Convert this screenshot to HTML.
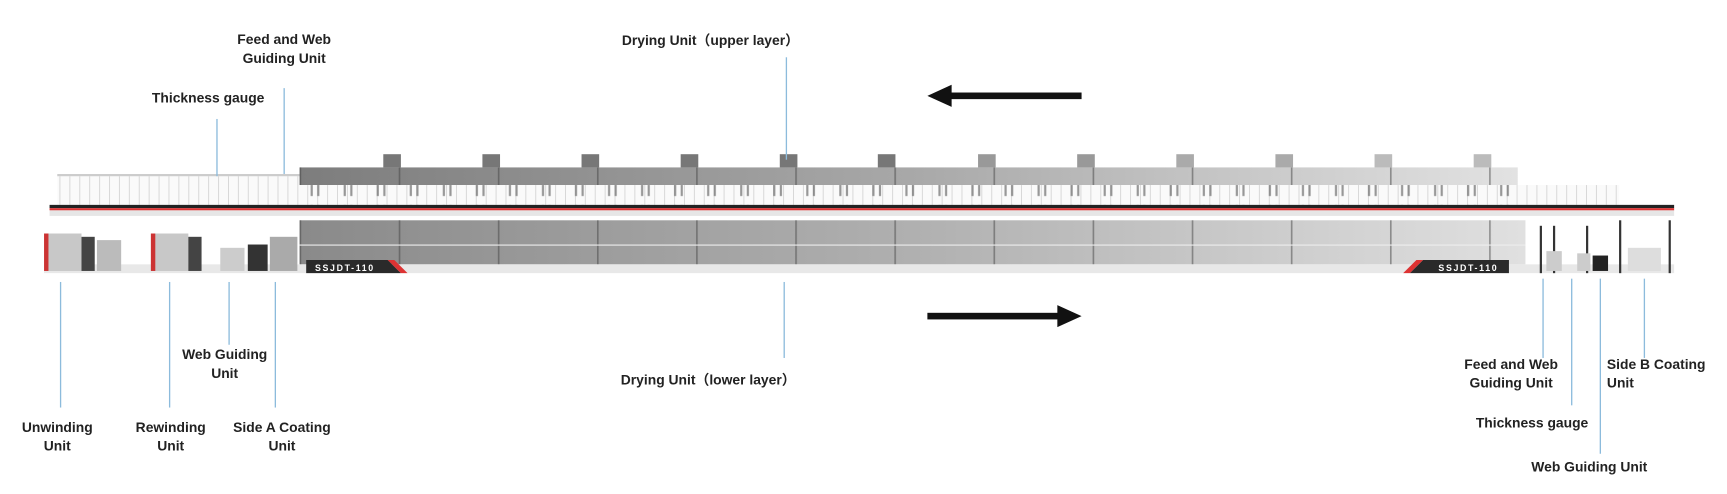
<!DOCTYPE html>
<html><head><meta charset="utf-8"><style>
html,body{margin:0;padding:0;background:#fff;}
svg{display:block;}
text{font-family:"Liberation Sans","Noto Sans CJK SC",sans-serif;font-weight:bold;font-size:12.6px;fill:#222;}
</style></head><body>
<svg width="1727" height="494" viewBox="0 0 1568 448.5" preserveAspectRatio="none" xmlns="http://www.w3.org/2000/svg">
<defs>
<linearGradient id="gu" x1="0" x2="1"><stop offset="0" stop-color="#7d7d7d"/><stop offset="0.5" stop-color="#a8a8a8"/><stop offset="1" stop-color="#e2e2e2"/></linearGradient>
<linearGradient id="gl" x1="0" x2="1"><stop offset="0" stop-color="#8a8a8a"/><stop offset="0.5" stop-color="#b0b0b0"/><stop offset="1" stop-color="#e0e0e0"/></linearGradient>
<pattern id="rail" width="9" height="20" patternUnits="userSpaceOnUse"><rect width="9" height="20" fill="#fafafa"/><rect x="0" width="0.8" height="20" fill="#d4d4d4"/></pattern>
<pattern id="mod" width="90" height="60" patternUnits="userSpaceOnUse" x="272"><rect x="12" y="8" width="10" height="4" fill="#555" opacity=".6"/><rect x="40" y="8" width="10" height="4" fill="#555" opacity=".6"/><rect x="68" y="8" width="10" height="4" fill="#555" opacity=".6"/><rect x="0" y="0" width="1.5" height="60" fill="#444" opacity=".5"/></pattern>
<pattern id="stub" width="30" height="20" patternUnits="userSpaceOnUse" x="272"><rect x="10" y="6" width="2" height="12" fill="#555" opacity=".6"/><rect x="16" y="6" width="2" height="12" fill="#555" opacity=".6"/></pattern>
</defs>
<rect x="52" y="160" width="220" height="26" fill="url(#rail)"/>
<rect x="52" y="158" width="220" height="2" fill="#ccc"/>
<rect x="1378" y="168" width="92" height="18" fill="url(#rail)"/>
<rect x="272" y="152" width="1106" height="16" fill="url(#gu)"/>
<rect x="272" y="152" width="1106" height="16" fill="url(#mod)"/>
<rect x="272" y="168" width="1106" height="18" fill="url(#rail)"/>
<rect x="272" y="168" width="1106" height="18" fill="url(#stub)"/>
<g fill="#777">
<rect x="348" y="140" width="16" height="12"/><rect x="438" y="140" width="16" height="12"/><rect x="528" y="140" width="16" height="12"/><rect x="618" y="140" width="16" height="12"/><rect x="708" y="140" width="16" height="12"/><rect x="797" y="140" width="16" height="12"/><rect x="888" y="140" width="16" height="12" fill="#999"/><rect x="978" y="140" width="16" height="12" fill="#999"/><rect x="1068" y="140" width="16" height="12" fill="#aaa"/><rect x="1158" y="140" width="16" height="12" fill="#aaa"/><rect x="1248" y="140" width="16" height="12" fill="#bbb"/><rect x="1338" y="140" width="16" height="12" fill="#bbb"/>
</g>
<rect x="45" y="186" width="1475" height="3" fill="#222"/>
<rect x="45" y="189" width="1475" height="2" fill="#d33"/>
<rect x="45" y="191" width="1475" height="5" fill="#e6e6e6"/>
<rect x="272" y="200" width="1113" height="40" fill="url(#gl)"/>
<rect x="272" y="200" width="1113" height="40" fill="url(#mod)"/>
<rect x="272" y="222" width="1113" height="1" fill="#eee"/>
<rect x="40" y="240" width="1480" height="8" fill="#e8e8e8"/>
<polygon points="278,236 352,236 364,248 278,248" fill="#2a2a2a"/><polygon points="352,236 358,236 370,248 364,248" fill="#d33"/>
<text x="286" y="246" style="font-size:8px;fill:#fff;letter-spacing:1.5px">SSJDT-110</text>
<polygon points="1292,236 1370,236 1370,248 1280,248" fill="#2a2a2a"/><polygon points="1286,236 1292,236 1280,248 1274,248" fill="#d33"/>
<text x="1306" y="246" style="font-size:8px;fill:#fff;letter-spacing:1.5px">SSJDT-110</text>
<rect x="40" y="212" width="34" height="34" fill="#c8c8c8"/><rect x="40" y="212" width="4" height="34" fill="#c33"/>
<rect x="74" y="215" width="12" height="31" fill="#444"/><rect x="88" y="218" width="22" height="28" fill="#bbb"/>
<rect x="137" y="212" width="34" height="34" fill="#c8c8c8"/><rect x="137" y="212" width="4" height="34" fill="#c33"/>
<rect x="171" y="215" width="12" height="31" fill="#444"/>
<rect x="200" y="225" width="22" height="21" fill="#ccc"/><rect x="225" y="222" width="18" height="24" fill="#333"/><rect x="245" y="215" width="25" height="31" fill="#aaa"/>
<rect x="1398" y="205" width="2" height="43" fill="#333"/><rect x="1410" y="205" width="2" height="43" fill="#333"/><rect x="1440" y="205" width="2" height="43" fill="#333"/><rect x="1470" y="200" width="2" height="48" fill="#333"/><rect x="1515" y="200" width="2" height="48" fill="#333"/>
<rect x="1404" y="228" width="14" height="18" fill="#ccc"/><rect x="1432" y="230" width="12" height="16" fill="#ccc"/><rect x="1446" y="232" width="14" height="14" fill="#222"/><rect x="1478" y="225" width="30" height="21" fill="#ddd"/>
<rect x="855" y="84" width="127" height="6" fill="#111"/><polygon points="842,87 864,77 864,97" fill="#111"/>
<rect x="842" y="284" width="127" height="6" fill="#111"/><polygon points="982,287 960,277 960,297" fill="#111"/>
<g stroke="#8cbbdc" stroke-width="1.2">
<line x1="258" y1="80" x2="258" y2="158"/><line x1="197" y1="108" x2="197" y2="160"/>
<line x1="714" y1="52" x2="714" y2="145"/><line x1="712" y1="256" x2="712" y2="325"/>
<line x1="55" y1="256" x2="55" y2="370"/><line x1="154" y1="256" x2="154" y2="370"/>
<line x1="208" y1="256" x2="208" y2="313"/><line x1="250" y1="256" x2="250" y2="370"/>
<line x1="1401" y1="253" x2="1401" y2="325"/><line x1="1427" y1="253" x2="1427" y2="368"/>
<line x1="1453" y1="253" x2="1453" y2="412"/><line x1="1493" y1="253" x2="1493" y2="325"/>
</g>
<g text-anchor="middle">
<text x="258" y="40">Feed and Web</text><text x="258" y="57">Guiding Unit</text>
<text x="189" y="93">Thickness gauge</text>
<text x="645" y="41">Drying Unit（upper layer）</text>
<text x="643" y="349">Drying Unit（lower layer）</text>
<text x="52" y="392">Unwinding</text><text x="52" y="409">Unit</text>
<text x="155" y="392">Rewinding</text><text x="155" y="409">Unit</text>
<text x="204" y="326">Web Guiding</text><text x="204" y="343">Unit</text>
<text x="256" y="392">Side A Coating</text><text x="256" y="409">Unit</text>
<text x="1372" y="335">Feed and Web</text><text x="1372" y="352">Guiding Unit</text>
<text x="1391" y="388">Thickness gauge</text>
<text x="1443" y="428">Web Guiding Unit</text>
</g>
<text x="1459" y="335">Side B Coating</text><text x="1459" y="352">Unit</text>
</svg>
</body></html>
